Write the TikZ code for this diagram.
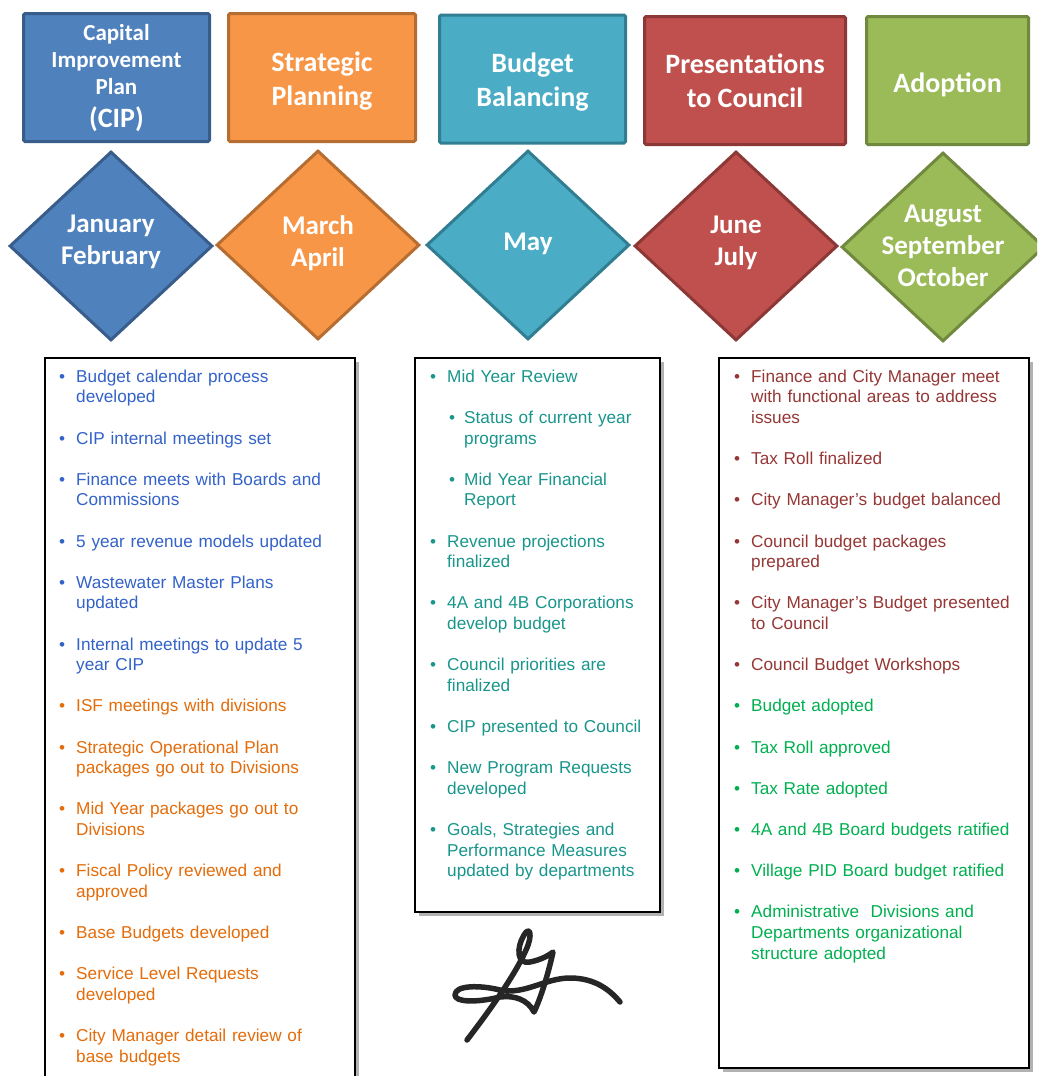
\documentclass[tikz,border=0pt]{standalone}
\usepackage{fontspec}
\setmainfont{Liberation Sans}
\newfontfamily\hdrfont{Carlito}
\usetikzlibrary{shapes.geometric,shadows}

% theme colours
\definecolor{cBlue}{RGB}{79,129,189}   \definecolor{cBlueD}{RGB}{56,93,138}
\definecolor{cOrange}{RGB}{247,150,70} \definecolor{cOrangeD}{RGB}{182,109,49}
\definecolor{cAqua}{RGB}{75,172,198}   \definecolor{cAquaD}{RGB}{49,125,145}
\definecolor{cRed}{RGB}{192,80,77}     \definecolor{cRedD}{RGB}{140,56,54}
\definecolor{cGreen}{RGB}{155,187,89}  \definecolor{cGreenD}{RGB}{113,137,63}
% list text colours
\definecolor{blueT}{RGB}{51,98,200}
\definecolor{orangeT}{RGB}{228,108,10}
\definecolor{tealT}{RGB}{25,150,140}
\definecolor{redT}{RGB}{149,55,53}
\definecolor{greenT}{RGB}{0,176,80}

\newlength\itemgap
\setlength\itemgap{20.6pt}

% outer bullet list
\newenvironment{calitems}{\begin{list}{\textbullet}{%
  \setlength\leftmargin{17pt}\setlength\labelwidth{6pt}\setlength\labelsep{11pt}%
  \setlength\itemsep{\itemgap}\setlength\parsep{0pt}%
  \setlength\topsep{0pt}\setlength\partopsep{0pt}}}{\end{list}}
% nested bullet list
\newenvironment{subitems}{\begin{list}{\textbullet}{%
  \setlength\leftmargin{17pt}\setlength\labelwidth{6pt}\setlength\labelsep{9pt}%
  \setlength\itemsep{\itemgap}\setlength\parsep{0pt}%
  \setlength\topsep{\itemgap}\setlength\partopsep{0pt}}}{\end{list}}
% item that switches the list colour from here on
\newcommand\colitem[1]{\item[\textcolor{#1}{\textbullet}]\color{#1}}

\begin{document}
\begin{tikzpicture}[x=1pt,y=-1pt,
  headbox/.style={rectangle, rounded corners=1.5pt, line width=3pt, minimum height=128},
  headtext/.style={text=white, align=center, inner sep=0pt,
    font=\hdrfont\bfseries\fontsize{28}{34}\selectfont},
  monthdia/.style={diamond, line width=3pt, minimum width=203, minimum height=189, inner sep=0pt},
  monthtext/.style={text=white, align=center, inner sep=0pt,
    font=\hdrfont\bfseries\fontsize{27}{32}\selectfont},
  frame/.style={rectangle, draw=black, line width=1.8pt, fill=white,
    drop shadow={shadow xshift=4pt, shadow yshift=-4pt, fill=black, opacity=0.3}},
  listnode/.style={anchor=north west, inner sep=0pt, align=left,
    font=\fontsize{17.2}{20.6}\selectfont},
  sig/.style={line width=5.5pt, line cap=round, line join=round, draw=black!85}
]
\clip (0,0) rectangle (1037,1076);
\useasboundingbox (0,0) rectangle (1037,1076);

% phase headers
\node[headbox, fill=cBlue, draw=cBlueD, minimum width=186] (cipHead) at (116.5,77.5) {};
\node[headbox, fill=cOrange, draw=cOrangeD, minimum width=187] (stratHead) at (322,77.5) {};
\node[headbox, fill=cAqua, draw=cAquaD, minimum width=186] (balHead) at (532.5,79) {};
\node[headbox, fill=cRed, draw=cRedD, minimum width=201] (presHead) at (745,80.5) {};
\node[headbox, fill=cGreen, draw=cGreenD, minimum width=162] (adoptHead) at (947.5,80.5) {};

\node[headtext, font=\hdrfont\bfseries\fontsize{23}{27}\selectfont] (cipText)
  at ([yshift=-1pt]cipHead.center)
  {Capital\\Improvement\\Plan\\[6pt]{\fontsize{28}{30}\selectfont (CIP)}};
\node[headtext] (stratText) at ([yshift=-4pt]stratHead.center) {Strategic\\Planning};
\node[headtext] (balText) at ([yshift=-3pt]balHead.center) {Budget\\Balancing};
\node[headtext] (presText) at (presHead.center) {Presentations\\to Council};
\node[headtext] (adoptText) at ([yshift=-4pt]adoptHead.center) {Adoption};

% month diamonds
\node[monthdia, fill=cBlue, draw=cBlueD] (janDia) at (111,246) {};
\node[monthdia, fill=cOrange, draw=cOrangeD] (marDia) at (318,245) {};
\node[monthdia, fill=cAqua, draw=cAquaD] (mayDia) at (528,245) {};
\node[monthdia, fill=cRed, draw=cRedD] (junDia) at (736,246) {};
\node[monthdia, fill=cGreen, draw=cGreenD] (augDia) at (943,247) {};
\node[monthtext] (janText) at (111,242) {January\\February};
\node[monthtext] (marText) at (318,243) {March\\April};
\node[monthtext] (mayText) at (528,244) {May};
\node[monthtext] (junText) at (736,243) {June\\July};
\node[monthtext] (augText) at (943,246) {August\\September\\October};

% task frames
\node[frame, minimum width=310, minimum height=737] (cipFrame) at (200,726.5) {};
\node[frame, minimum width=245, minimum height=554] (mayFrame) at (537.5,635) {};
\node[frame, minimum width=310, minimum height=710] (adoptFrame) at (874,713) {};

% task lists
\node[listnode, text=blueT, text width=285] (cipList) at (59,361.5) {%
\begin{calitems}
\item Budget calendar process\\ developed
\item CIP internal meetings set
\item Finance meets with Boards and\\ Commissions
\item 5 year revenue models updated
\item Wastewater Master Plans\\ updated
\item Internal meetings to update 5\\ year CIP
\colitem{orangeT} ISF meetings with divisions
\item Strategic Operational Plan\\ packages go out to Divisions
\item Mid Year packages go out to\\ Divisions
\item Fiscal Policy reviewed and\\ approved
\item Base Budgets developed
\item Service Level Requests\\ developed
\item City Manager detail review of\\ base budgets
\end{calitems}};

\node[listnode, text=tealT, text width=225] (mayList) at (430,361.5) {%
\begin{calitems}
\item Mid Year Review
  \begin{subitems}
  \item Status of current year\\ programs
  \item Mid Year Financial\\ Report
  \end{subitems}
\item Revenue projections\\ finalized
\item 4A and 4B Corporations\\ develop budget
\item Council priorities are\\ finalized
\item CIP presented to Council
\item New Program Requests\\ developed
\item Goals, Strategies and\\ Performance Measures\\ updated by departments
\end{calitems}};

\node[listnode, text=redT, text width=290] (adoptList) at (734,361.5) {%
\begin{calitems}
\item Finance and City Manager meet\\ with functional areas to address\\ issues
\item Tax Roll finalized
\item City Manager’s budget balanced
\item Council budget packages\\ prepared
\item City Manager’s Budget presented\\ to Council
\item Council Budget Workshops
\colitem{greenT} Budget adopted
\item Tax Roll approved
\item Tax Rate adopted
\item 4A and 4B Board budgets ratified
\item Village PID Board budget ratified
\item Administrative\ \ Divisions and\\ Departments organizational\\ structure adopted
\end{calitems}};

% signature
\draw[sig] (467,1040) .. controls (490,1010) and (515,975) .. (526,950)
  .. controls (533,935) and (530,925) .. (524,935)
  .. controls (516,948) and (517,965) .. (530,962)
  .. controls (540,960) and (548,956) .. (553,952)
  .. controls (548,975) and (540,1000) .. (534,1012)
  .. controls (528,1000) and (515,995) .. (500,997)
  .. controls (475,1003) and (455,1002) .. (455,995)
  .. controls (455,985) and (480,985) .. (500,990)
  .. controls (525,995) and (545,978) .. (570,978)
  .. controls (595,978) and (610,990) .. (620,1002);
\end{tikzpicture}
\end{document}
